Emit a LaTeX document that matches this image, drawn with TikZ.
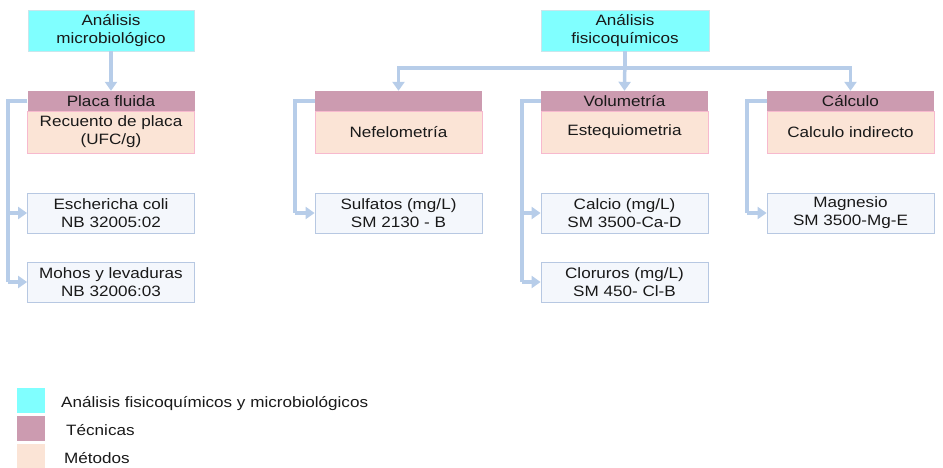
\documentclass[tikz,border=0pt]{standalone}
\usepackage{fontspec}
\setmainfont[FakeStretch=1.14]{Liberation Sans}
\usetikzlibrary{arrows.meta}
\definecolor{cyanbox}{HTML}{80FFFF}
\definecolor{cyanedge}{HTML}{C8E6EC}
\definecolor{techfill}{HTML}{CC9BB0}
\definecolor{methfill}{HTML}{FBE4D6}
\definecolor{methedge}{HTML}{F7B9CE}
\definecolor{itemfill}{HTML}{F4F7FC}
\definecolor{itemedge}{HTML}{B7C8E2}
\definecolor{linkcol}{HTML}{B7CDE9}
\tikzset{
  every node/.style={font=\fontsize{15}{18}\selectfont, inner sep=0pt, align=center, text=black!90},
  topbox/.style={fill=cyanbox, draw=cyanedge, line width=0.8pt, minimum width=166pt, minimum height=41pt},
  techbox/.style={fill=techfill, minimum width=167pt, minimum height=20pt},
  methbox/.style={fill=methfill, draw=methedge, line width=0.8pt, minimum width=167pt, minimum height=42pt},
  itembox/.style={fill=itemfill, draw=itemedge, line width=0.8pt, minimum width=167pt, minimum height=40pt},
  link/.style={draw=linkcol, line width=3.5pt},
  linkarrow/.style={link, -{Triangle[width=12pt,length=9pt]}},
  swatch/.style={minimum width=28pt, minimum height=25pt},
  legendtext/.style={anchor=west}
}
\begin{document}
\begin{tikzpicture}[x=1pt,y=-1pt]
\useasboundingbox (0,0) rectangle (943,467);

% analysis boxes
\node[topbox] (micro) at (111,30.5) {Análisis\\microbiológico};
\node[topbox, minimum width=168pt] (fisico) at (625,30.5) {Análisis\\fisicoquímicos};

% techniques (header) and methods
\node[methbox] (m1) at (111,132) {Recuento de placa\\(UFC/g)};
\node[techbox] (t1) at (111,101) {Placa fluida};
\node[methbox] (m2) at (398.5,132) {Nefelometría};
\node[techbox] (t2) at (398.5,101) {};
\node[methbox] (m3) at (624.5,132) {Estequiometria};
\node[techbox] (t3) at (624.5,101) {Volumetría};
\node[methbox] (m4) at (850.5,132) {Calculo indirecto};
\node[techbox] (t4) at (850.5,101) {Cálculo};

% determinations
\node[itembox] (e1) at (111,213) {Eschericha coli\\NB 32005:02};
\node[itembox] (e2) at (111,282) {Mohos y levaduras\\NB 32006:03};
\node[itembox] (s1) at (398.5,213) {Sulfatos (mg/L)\\SM 2130 - B};
\node[itembox] (c1) at (624.5,213) {Calcio (mg/L)\\SM 3500-Ca-D};
\node[itembox] (c2) at (624.5,282) {Cloruros (mg/L)\\SM 450- Cl-B};
\node[itembox] (g1) at (850.5,213) {Magnesio\\SM 3500-Mg-E};

% routing points
\coordinate (bus) at (0,68);
\coordinate (r1) at (8,0);
\coordinate (r2) at (295,0);
\coordinate (r3) at (522,0);
\coordinate (r4) at (747,0);

% top-level links
\draw[linkarrow] (micro.south) -- (t1.north);
\draw[linkarrow] (fisico.south) -- (t3.north);
\draw[linkarrow] (fisico.south) -- (fisico.south |- bus) -| (t2.north);
\draw[linkarrow] (fisico.south) -- (fisico.south |- bus) -| (t4.north);

% technique to determination links
\draw[link] (t1.west) -| (r1 |- e2.west);
\draw[linkarrow] (r1 |- e1.west) -- (e1.west);
\draw[linkarrow] (r1 |- e2.west) -- (e2.west);

\draw[link] (t2.west) -| (r2 |- s1.west);
\draw[linkarrow] (r2 |- s1.west) -- (s1.west);

\draw[link] (t3.west) -| (r3 |- c2.west);
\draw[linkarrow] (r3 |- c1.west) -- (c1.west);
\draw[linkarrow] (r3 |- c2.west) -- (c2.west);

\draw[link] (t4.west) -| (r4 |- g1.west);
\draw[linkarrow] (r4 |- g1.west) -- (g1.west);

% legend
\node[swatch, fill=cyanbox] (k1) at (31,400.5) {};
\node[swatch, fill=techfill] (k2) at (31,428.5) {};
\node[swatch, fill=methfill] (k3) at (31,456.5) {};
\node[legendtext] (l1) at (61,404) {Análisis fisicoquímicos y microbiológicos};
\node[legendtext] (l2) at (66,430) {Técnicas};
\node[legendtext] (l3) at (64,458) {Métodos};
\end{tikzpicture}
\end{document}
